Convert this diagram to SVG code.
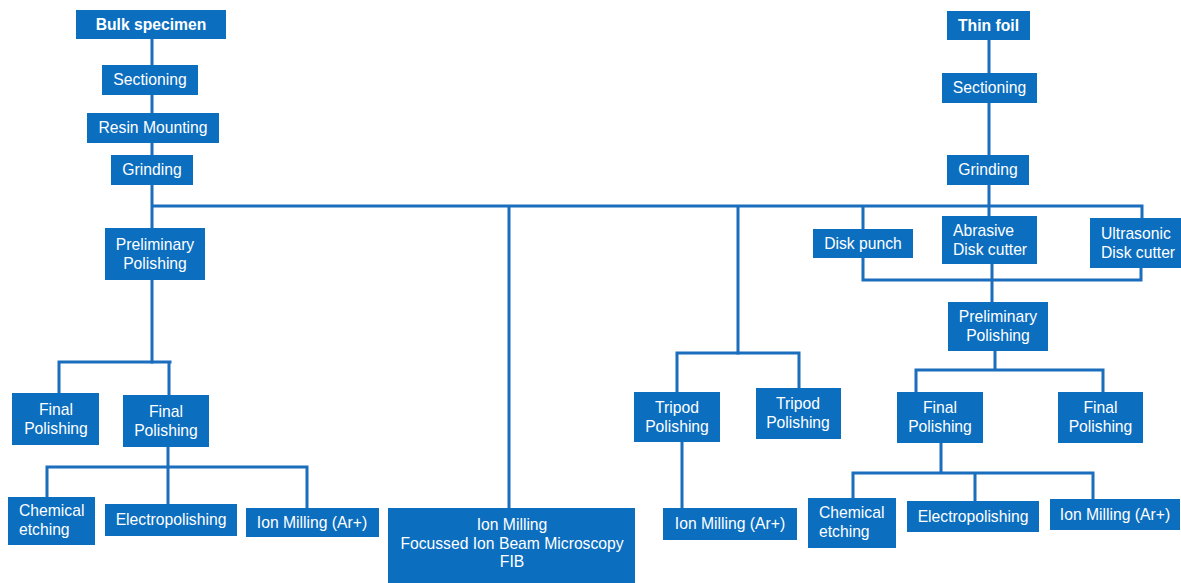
<svg xmlns="http://www.w3.org/2000/svg" width="1181" height="583" viewBox="0 0 1181 583">
<style>
.b{fill:#0b6ebf}
.t{fill:#ffffff;font-family:"Liberation Sans",Arial,sans-serif;font-size:15.7px;text-anchor:middle}
.l{text-anchor:start}
.bold{font-weight:bold}
.c{fill:none;stroke:#1b6dbd;stroke-width:3;stroke-linecap:square}
</style>
<rect width="1181" height="583" fill="#ffffff"/>
<g id="connectors">
<path class="c" d="M152 39V228M152 280V362M152 206H1142V218M509 206V508M738 206V353M863 206V229M989 40V216"/>
<path class="c" d="M677 353H799M677 353V392M799 353V388M682 442V508"/>
<path class="c" d="M59 362H170M59 362V393M169 362V395M168 447V467M47 467H307M47 467V497M168 467V504M307 467V508"/>
<path class="c" d="M863 258V280H1141V268M992 264V302M995 351V370M916 370H1103M916 370V392M1103 370V392M941 443V473M853 473H1093M853 473V498M975 473V501M1093 473V499"/>
</g>
<g id="bulk"><rect class="b" x="76" y="10" width="150" height="29"/><text class="t bold" x="151" y="30">Bulk specimen</text></g>
<g id="sect1"><rect class="b" x="102" y="65" width="96" height="30"/><text class="t" x="150" y="85">Sectioning</text></g>
<g id="resin"><rect class="b" x="87" y="113" width="132" height="30"/><text class="t" x="153" y="133">Resin Mounting</text></g>
<g id="grind1"><rect class="b" x="111" y="155" width="82" height="30"/><text class="t" x="152" y="175">Grinding</text></g>
<g id="prelim1"><rect class="b" x="105" y="228" width="100" height="52"/><text class="t" x="155" y="249.5">Preliminary</text><text class="t" x="155" y="268.5">Polishing</text></g>
<g id="final1"><rect class="b" x="12" y="393" width="87" height="52"/><text class="t" x="56" y="414.5">Final</text><text class="t" x="56" y="433.5">Polishing</text></g>
<g id="final2"><rect class="b" x="123" y="395" width="86" height="52"/><text class="t" x="166" y="416.5">Final</text><text class="t" x="166" y="435.5">Polishing</text></g>
<g id="chem1"><rect class="b" x="8" y="497" width="87" height="48"/><text class="t l" x="19" y="516">Chemical</text><text class="t l" x="19" y="535">etching</text></g>
<g id="electro1"><rect class="b" x="105" y="504" width="132" height="32"/><text class="t" x="171" y="525">Electropolishing</text></g>
<g id="ion1"><rect class="b" x="246" y="508" width="133" height="29"/><text class="t" x="312" y="528">Ion Milling (Ar+)</text></g>
<g id="fib"><rect class="b" x="388" y="508" width="247" height="75"/><text class="t" x="512" y="530">Ion Milling</text><text class="t" x="512" y="549">Focussed Ion Beam Microscopy</text><text class="t" x="512" y="567">FIB</text></g>
<g id="tripod1"><rect class="b" x="634" y="392" width="86" height="50"/><text class="t" x="677" y="412.5">Tripod</text><text class="t" x="677" y="431.5">Polishing</text></g>
<g id="tripod2"><rect class="b" x="756" y="388" width="85" height="51"/><text class="t" x="798" y="409">Tripod</text><text class="t" x="798" y="428">Polishing</text></g>
<g id="ion2"><rect class="b" x="663" y="508" width="134" height="32"/><text class="t" x="730" y="529">Ion Milling (Ar+)</text></g>
<g id="thin"><rect class="b" x="947" y="11" width="83" height="29"/><text class="t bold" x="988.5" y="31">Thin foil</text></g>
<g id="sect2"><rect class="b" x="942" y="73" width="95" height="30"/><text class="t" x="989.5" y="93">Sectioning</text></g>
<g id="grind2"><rect class="b" x="947" y="155" width="82" height="30"/><text class="t" x="988" y="175">Grinding</text></g>
<g id="punch"><rect class="b" x="813" y="229" width="100" height="29"/><text class="t" x="863" y="249">Disk punch</text></g>
<g id="abrasive"><rect class="b" x="942" y="216" width="95" height="48"/><text class="t l" x="953" y="235.5">Abrasive</text><text class="t l" x="953" y="254.5">Disk cutter</text></g>
<g id="ultra"><rect class="b" x="1090" y="218" width="91" height="50"/><text class="t l" x="1101" y="238.5">Ultrasonic</text><text class="t l" x="1101" y="257.5">Disk cutter</text></g>
<g id="prelim2"><rect class="b" x="948" y="302" width="100" height="49"/><text class="t" x="998" y="322">Preliminary</text><text class="t" x="998" y="341">Polishing</text></g>
<g id="final3"><rect class="b" x="897" y="392" width="86" height="51"/><text class="t" x="940" y="413">Final</text><text class="t" x="940" y="432">Polishing</text></g>
<g id="final4"><rect class="b" x="1058" y="392" width="85" height="51"/><text class="t" x="1100.5" y="413">Final</text><text class="t" x="1100.5" y="432">Polishing</text></g>
<g id="chem2"><rect class="b" x="808" y="498" width="88" height="50"/><text class="t l" x="819" y="518">Chemical</text><text class="t l" x="819" y="537">etching</text></g>
<g id="electro2"><rect class="b" x="907" y="501" width="132" height="31"/><text class="t" x="973" y="521.5">Electropolishing</text></g>
<g id="ion3"><rect class="b" x="1050" y="499" width="130" height="31"/><text class="t" x="1115" y="519.5">Ion Milling (Ar+)</text></g>
</svg>
